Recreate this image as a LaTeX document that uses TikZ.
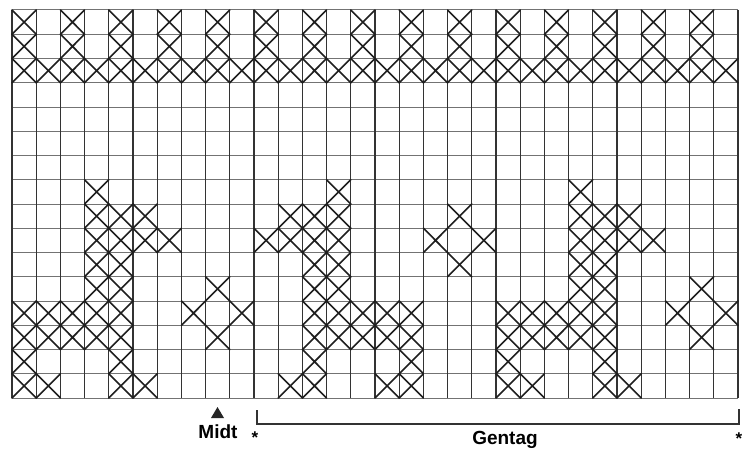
\documentclass[tikz,border=0pt]{standalone}
\usepackage{fontspec}
\setmainfont{Liberation Sans}
\newcommand\xcell[2]{\draw[xline] ({12+(#1)*24.2},{10+(#2)*24.25}) -- ++(24.2,24.25) ({12+(#1+1)*24.2},{10+(#2)*24.25}) -- ++(-24.2,24.25);}
\begin{document}
\begin{tikzpicture}[x=1pt,y=-1pt,
  vline/.style={line width=1.3pt,black!80},
  hline/.style={line width=1.0pt,black!55},
  xline/.style={line width=1.6pt,black!88,line cap=round},
  lbl/.style={font=\bfseries\fontsize{19}{19}\selectfont,inner sep=0pt},
  ast/.style={font=\bfseries\fontsize{17}{17}\selectfont,inner sep=0pt},
  brk/.style={line width=1.2pt,black!80}]
\useasboundingbox[fill=white] (0,0) rectangle (742,452);
% grid
\foreach \i in {0,...,16} \draw[hline] (12,{10+\i*24.25}) -- (738,{10+\i*24.25});
\foreach \i in {0,...,30} \draw[vline] ({12+\i*24.2},10) -- ({12+\i*24.2},398);
% top border
\foreach \c in {0,2,...,28} {\xcell{\c}{0}\xcell{\c}{1}}
\foreach \c in {0,...,29} {\xcell{\c}{2}}
% motif A and small diamond (repeat 20)
\foreach \o in {0,20}{
  \foreach \c/\r in {3/7,3/8,4/8,5/8,3/9,4/9,5/9,6/9,3/10,4/10,3/11,4/11,
    0/12,1/12,2/12,3/12,4/12,0/13,1/13,2/13,3/13,4/13,0/14,4/14,0/15,1/15,4/15,5/15,
    8/11,7/12,9/12,8/13} {\xcell{\c+\o}{\r}}
}
% motif B (mirrored) and diamond
\foreach \c/\r in {13/7,11/8,12/8,13/8,10/9,11/9,12/9,13/9,12/10,13/10,12/11,13/11,
  12/12,13/12,14/12,15/12,16/12,12/13,13/13,14/13,15/13,16/13,12/14,16/14,
  11/15,12/15,15/15,16/15,18/8,17/9,19/9,18/10} {\xcell{\c}{\r}}
% labels
\fill[black!85] (217.5,407) -- (224,418) -- (211,418) -- cycle;
\node[lbl] (midt) at (218,432) {Midt};
\node[lbl] (gentag) at (505,440) {Gentag};
\node[ast] (astL) at (255,438) {*};
\node[ast] (astR) at (739,439) {*};
\coordinate (bl) at (257,410);
\coordinate (bl2) at (257,424);
\coordinate (br2) at (739,424);
\coordinate (br) at (739,409);
\draw[brk] (bl) -- (bl2) -- (br2) -- (br);
\end{tikzpicture}
\end{document}
